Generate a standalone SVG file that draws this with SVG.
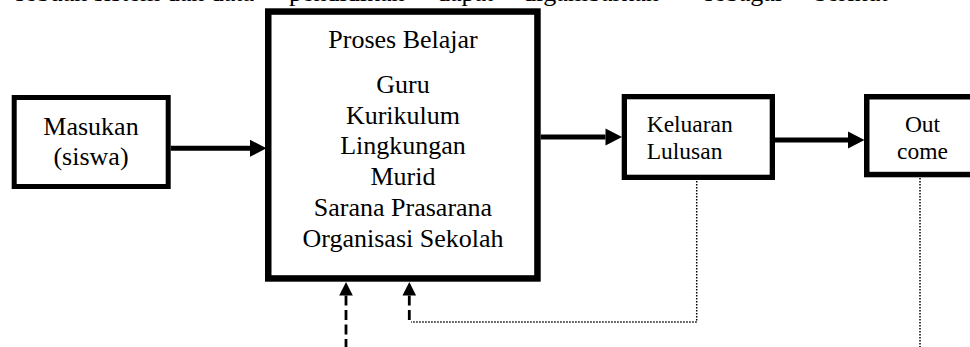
<svg xmlns="http://www.w3.org/2000/svg" width="970" height="347" viewBox="0 0 970 347">
  <style>
    text { font-family: "Liberation Serif", "Times New Roman", serif; fill: #000; }
    .big { font-size: 26px; }
    .mid { font-size: 23.5px; }
    .c { text-anchor: middle; }
    .box { fill: #fff; stroke: #000; }
    .flow { fill: none; stroke: #000; stroke-width: 5; }
    .dash { fill: none; stroke: #000; stroke-width: 2.8; stroke-dasharray: 10 4.5; }
    .dot { fill: none; stroke: #000; stroke-width: 1.5; stroke-dasharray: 1.5 1.5; }
  </style>
  <defs>
    <marker id="solidHead" markerUnits="userSpaceOnUse" markerWidth="17" markerHeight="18" refX="0" refY="8.5" orient="auto" overflow="visible">
      <path d="M0,0 L16.5,8.5 L0,17 z" fill="#000"/>
    </marker>
    <marker id="dashHead" markerUnits="userSpaceOnUse" markerWidth="14" markerHeight="14" refX="0" refY="6.8" orient="auto-start-reverse" overflow="visible">
      <path d="M0,0 L13.5,6.8 L0,13.6 z" fill="#000"/>
    </marker>
  </defs>

  <!-- running text line above the figure -->
  <g id="caption" class="big">
    <text x="15" y="0.5">sebuah sistem dan data</text>
    <text x="289" y="0.5">pendidikan</text>
    <text x="437" y="0.5">dapat</text>
    <text x="523" y="0.5">digambarkan</text>
    <text x="704" y="0.5">sebagai</text>
    <text x="814" y="0.5">berikut</text>
  </g>

  <g id="connectors">
    <!-- main flow -->
    <line class="flow" x1="170.7" y1="148.3" x2="250" y2="148.3" marker-end="url(#solidHead)"/>
    <line class="flow" x1="540.7" y1="137" x2="605.5" y2="137" marker-end="url(#solidHead)"/>
    <line class="flow" x1="775" y1="140" x2="848" y2="140" marker-end="url(#solidHead)"/>
    <!-- feedback -->
    <path class="dot" d="M696.7,181 V322 H411"/>
    <path class="dot" d="M920,178 V347"/>
    <line class="dash" x1="409.3" y1="295.5" x2="409.3" y2="321.5" marker-start="url(#dashHead)"/>
    <line class="dash" x1="346" y1="295.5" x2="346" y2="347" marker-start="url(#dashHead)"/>
  </g>

  <g id="masukan">
    <rect class="box" x="14.2" y="97.5" width="154" height="89" stroke-width="5"/>
    <text class="big c" x="91" y="135">Masukan</text>
    <text class="big c" x="91" y="165">(siswa)</text>
  </g>

  <g id="proses-belajar">
    <rect class="box" x="268.25" y="11.55" width="269.2" height="266.9" stroke-width="6.5"/>
    <text class="big c" x="403" y="48.3">Proses Belajar</text>
    <text class="big c" x="403" y="93">Guru</text>
    <text class="big c" x="403" y="123.7">Kurikulum</text>
    <text class="big c" x="403" y="154.4">Lingkungan</text>
    <text class="big c" x="403" y="185">Murid</text>
    <text class="big c" x="403" y="215.8">Sarana Prasarana</text>
    <text class="big c" x="403" y="246.5">Organisasi Sekolah</text>
  </g>

  <g id="keluaran">
    <rect class="box" x="624.35" y="96.65" width="148" height="80.7" stroke-width="5.3"/>
    <text class="mid" x="646.7" y="131.7">Keluaran</text>
    <text class="mid" x="646.7" y="159.3">Lulusan</text>
  </g>

  <g id="outcome">
    <rect class="box" x="866.75" y="96.75" width="111" height="77.8" stroke-width="5.5"/>
    <text class="mid c" x="922.5" y="131.7">Out</text>
    <text class="mid c" x="922.5" y="159.3">come</text>
  </g>
</svg>
